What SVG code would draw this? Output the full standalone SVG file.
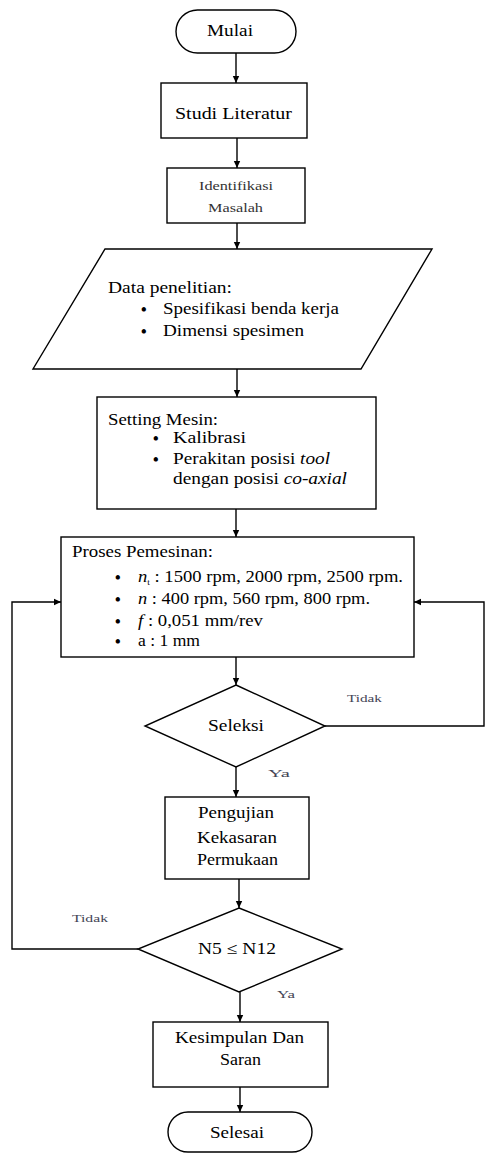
<svg xmlns="http://www.w3.org/2000/svg" width="485" height="1156" viewBox="0 0 485 1156">
<style>
.s{fill:#fff;stroke:#000;stroke-width:1.4}
.c{fill:none;stroke:#000;stroke-width:1.4}
text{font-family:"Liberation Serif","Times New Roman",serif;fill:#000}
.t{font-size:16px}
.b{font-size:16px;font-weight:bold}
.sm{font-size:12.5px;fill:#333}
.lb{font-size:11px;fill:#445}
</style>
<defs>
<marker id="ah" markerWidth="8" markerHeight="8" refX="7" refY="4" orient="auto" markerUnits="userSpaceOnUse">
<path d="M0,0.8 L7,4 L0,7.2 z" fill="#000"/>
</marker>
</defs>
<rect width="485" height="1156" fill="#fff"/>
<g id="connectors">
<line class="c" x1="236" y1="53" x2="236" y2="83" marker-end="url(#ah)"/>
<line class="c" x1="237" y1="138" x2="237" y2="168" marker-end="url(#ah)"/>
<line class="c" x1="237" y1="223" x2="237" y2="249" marker-end="url(#ah)"/>
<line class="c" x1="237" y1="369" x2="237" y2="397" marker-end="url(#ah)"/>
<line class="c" x1="236" y1="509" x2="236" y2="537" marker-end="url(#ah)"/>
<line class="c" x1="236" y1="657" x2="236" y2="685" marker-end="url(#ah)"/>
<line class="c" x1="236" y1="767" x2="236" y2="797" marker-end="url(#ah)"/>
<line class="c" x1="239" y1="879" x2="239" y2="908" marker-end="url(#ah)"/>
<line class="c" x1="240" y1="992" x2="240" y2="1022" marker-end="url(#ah)"/>
<line class="c" x1="240" y1="1087" x2="240" y2="1112" marker-end="url(#ah)"/>
<polyline class="c" points="325,726 484,726 484,602 414,602" marker-end="url(#ah)"/>
<polyline class="c" points="138,949 12,949 12,602 61,602" marker-end="url(#ah)"/>
<text class="lb" x="347" y="702" textLength="35" lengthAdjust="spacingAndGlyphs">Tidak</text>
<text class="lb" x="268" y="777" textLength="22" lengthAdjust="spacingAndGlyphs">Ya</text>
<text class="lb" x="72" y="922" textLength="36" lengthAdjust="spacingAndGlyphs">Tidak</text>
<text class="lb" x="277" y="998" textLength="18" lengthAdjust="spacingAndGlyphs">Ya</text>
</g>
<g id="mulai">
<rect class="s" x="176" y="10" width="120" height="43" rx="21.5"/>
<text class="t" x="207" y="36" textLength="46" lengthAdjust="spacingAndGlyphs">Mulai</text>
</g>
<g id="studi">
<rect class="s" x="161" y="83" width="146" height="55"/>
<text class="t" x="175" y="119" textLength="117" lengthAdjust="spacingAndGlyphs">Studi Literatur</text>
</g>
<g id="identifikasi">
<rect class="s" x="167" y="168" width="138" height="55"/>
<text class="sm" x="199" y="190" textLength="74" lengthAdjust="spacingAndGlyphs">Identifikasi</text>
<text class="sm" x="208" y="212" textLength="55" lengthAdjust="spacingAndGlyphs">Masalah</text>
</g>
<g id="data">
<polygon class="s" points="105,249 432,249 361,369 33,369"/>
<text class="t" x="108" y="293" textLength="124" lengthAdjust="spacingAndGlyphs">Data penelitian:</text>
<text class="b" x="141" y="315">•</text>
<text class="t" x="163" y="314" textLength="176" lengthAdjust="spacingAndGlyphs">Spesifikasi benda kerja</text>
<text class="b" x="141" y="337">•</text>
<text class="t" x="163" y="336" textLength="141" lengthAdjust="spacingAndGlyphs">Dimensi spesimen</text>
</g>
<g id="setting">
<rect class="s" x="97" y="397" width="279" height="112"/>
<text class="t" x="108" y="425" textLength="110" lengthAdjust="spacingAndGlyphs">Setting Mesin:</text>
<text class="b" x="153" y="444">•</text>
<text class="t" x="173" y="443" textLength="73" lengthAdjust="spacingAndGlyphs">Kalibrasi</text>
<text class="b" x="153" y="465">•</text>
<text class="t" x="173" y="464" textLength="157" lengthAdjust="spacingAndGlyphs">Perakitan posisi <tspan font-style="italic">tool</tspan></text>
<text class="t" x="173" y="484" textLength="174" lengthAdjust="spacingAndGlyphs">dengan posisi <tspan font-style="italic">co-axial</tspan></text>
</g>
<g id="proses">
<rect class="s" x="61" y="537" width="353" height="120"/>
<text class="t" x="72" y="557" textLength="141" lengthAdjust="spacingAndGlyphs">Proses Pemesinan:</text>
<text class="b" x="115" y="583">•</text>
<text class="t" x="138" y="582" textLength="265" lengthAdjust="spacingAndGlyphs"><tspan font-style="italic">n</tspan><tspan font-size="8" dy="3">t</tspan><tspan dy="-3"> : 1500 rpm, 2000 rpm, 2500 rpm.</tspan></text>
<text class="b" x="115" y="605">•</text>
<text class="t" x="138" y="604" textLength="232" lengthAdjust="spacingAndGlyphs"><tspan font-style="italic">n</tspan> : 400 rpm, 560 rpm, 800 rpm.</text>
<text class="b" x="115" y="627">•</text>
<text class="t" x="138" y="626" textLength="125" lengthAdjust="spacingAndGlyphs"><tspan font-style="italic">f</tspan> : 0,051 mm/rev</text>
<text class="b" x="115" y="647">•</text>
<text class="t" x="138" y="646" textLength="62" lengthAdjust="spacingAndGlyphs">a : 1 mm</text>
</g>
<g id="seleksi">
<polygon class="s" points="236,685 325,726 236,767 145,726"/>
<text class="t" x="208" y="731" textLength="56" lengthAdjust="spacingAndGlyphs">Seleksi</text>
</g>
<g id="pengujian">
<rect class="s" x="165" y="797" width="144" height="82"/>
<text class="t" x="198" y="818" textLength="76" lengthAdjust="spacingAndGlyphs">Pengujian</text>
<text class="t" x="197" y="843" textLength="80" lengthAdjust="spacingAndGlyphs">Kekasaran</text>
<text class="t" x="197" y="865" textLength="81" lengthAdjust="spacingAndGlyphs">Permukaan</text>
</g>
<g id="n5">
<polygon class="s" points="239,908 342,949 239,992 138,949"/>
<text class="t" x="198" y="954" textLength="78" lengthAdjust="spacingAndGlyphs">N5 ≤ N12</text>
</g>
<g id="kesimpulan">
<rect class="s" x="153" y="1022" width="175" height="65"/>
<text class="t" x="175" y="1043" textLength="129" lengthAdjust="spacingAndGlyphs">Kesimpulan Dan</text>
<text class="t" x="220" y="1065" textLength="41" lengthAdjust="spacingAndGlyphs">Saran</text>
</g>
<g id="selesai">
<rect class="s" x="168" y="1112" width="144" height="40" rx="20"/>
<text class="t" x="210" y="1138" textLength="54" lengthAdjust="spacingAndGlyphs">Selesai</text>
</g>
</svg>
